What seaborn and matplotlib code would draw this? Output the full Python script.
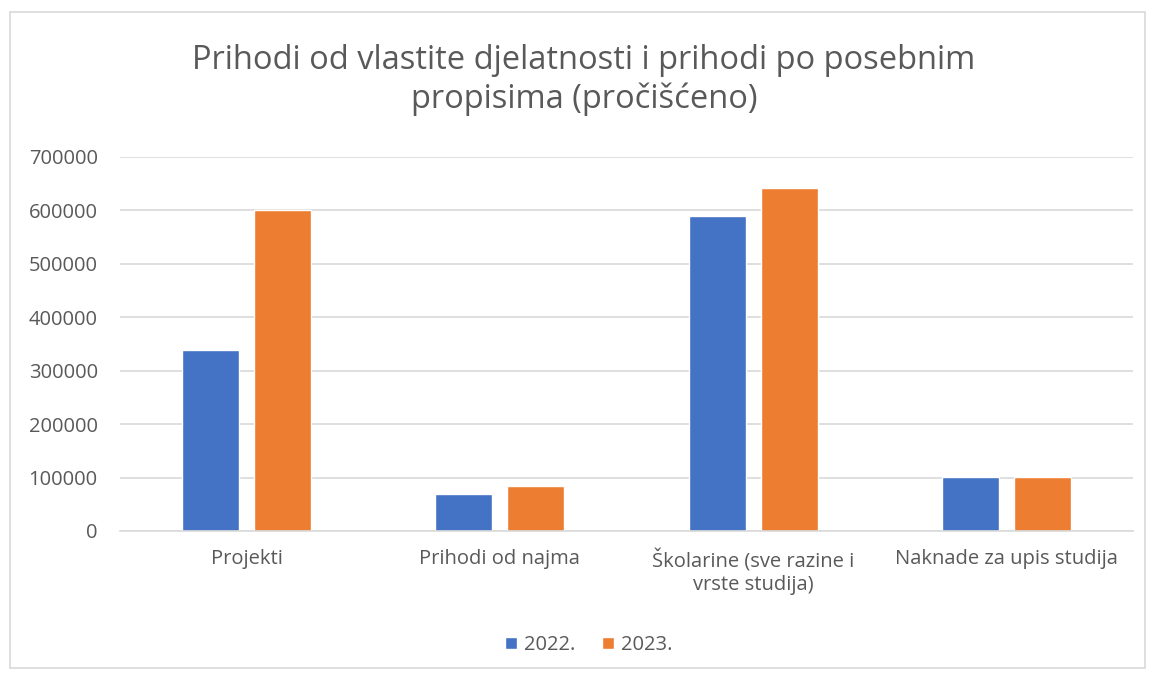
import matplotlib
matplotlib.use("Agg")
import matplotlib.pyplot as plt
import seaborn as sns
import pandas as pd
from matplotlib.patches import Rectangle

categories = ["Projekti", "Prihodi od najma", "Školarine (sve razine i\nvrste studija)", "Naknade za upis studija"]
years = ["2022.", "2023."]
values_2022 = [338000, 69000, 590000, 102000]
values_2023 = [601000, 84000, 642000, 102000]
yticks = [0, 100000, 200000, 300000, 400000, 500000, 600000, 700000]
colors = ["#4472C4", "#ED7D31"]
title = "Prihodi od vlastite djelatnosti i prihodi po posebnim\npropisima (pročišćeno)"

df = pd.DataFrame({
    "cat": categories * 2,
    "year": [years[0]] * 4 + [years[1]] * 4,
    "val": values_2022 + values_2023,
})

sns.set_theme(style="white")
plt.rcParams["font.family"] = ["Open Sans", "DejaVu Sans"]
text_col = "#595959"
fs = 14.5

fig = plt.figure(figsize=(11.51, 6.75), dpi=100)
fig.patch.set_facecolor("white")
fig.patches.append(Rectangle((10/1151, 1-668/675), 1135/1151, 656/675, transform=fig.transFigure,
                             fill=False, edgecolor="#D9D9D9", linewidth=1.2))
ax = fig.add_axes([120/1151, 1-531/675, (1133-120)/1151, (531-157)/675])
sns.barplot(data=df, x="cat", y="val", hue="year", palette=colors, ax=ax,
            width=0.57, gap=0.21, saturation=1, order=categories, hue_order=years, legend=True)
ax.set_ylim(0, 700000)
ax.set_yticks(yticks)
ax.set_yticklabels([str(v) for v in yticks], fontsize=fs, color=text_col)
ax.tick_params(axis="x", labelsize=fs, labelcolor=text_col, length=0, pad=13)
ax.tick_params(axis="y", length=0, pad=16)
for lab in ax.get_xticklabels():
    lab.set_linespacing(1.2)
ax.yaxis.grid(True, color="#D9D9D9", linewidth=1.2)
ax.set_axisbelow(True)
for s in ["top", "right", "left"]:
    ax.spines[s].set_visible(False)
ax.spines["bottom"].set_color("#D9D9D9")
ax.spines["bottom"].set_linewidth(1.2)
ax.set_xlabel("")
ax.set_ylabel("")
ax.set_xlim(-0.5, 3.5)

fig.text(584/1151, 1-80/675, title, ha="center", va="center", fontsize=23.5, color=text_col, linespacing=1.2)

handles, labels = ax.get_legend_handles_labels()
ax.legend(handles, labels, loc="center", bbox_to_anchor=(589/1151, 1-645/675), bbox_transform=fig.transFigure,
          ncol=2, frameon=False, fontsize=fs, labelcolor=text_col, handlelength=0.6, handleheight=0.6,
          handletextpad=0.35, columnspacing=1.3)

fig.savefig("out.png", dpi=100, facecolor="white")
